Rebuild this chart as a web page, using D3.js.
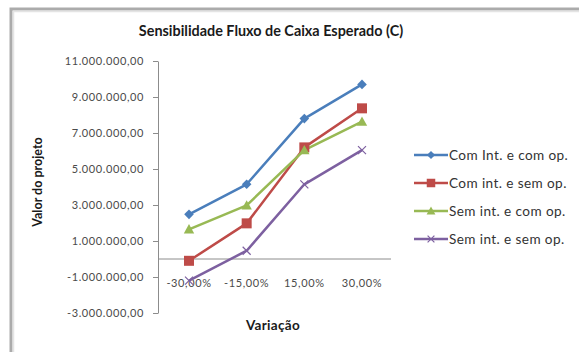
<!DOCTYPE html>
<html>
<head>
<meta charset="utf-8">
<script src="https://cdn.jsdelivr.net/npm/d3@7"></script>
<style>
  html, body { margin: 0; padding: 0; background: #fff; }
  svg { display: block; font-family: Lato, "Open Sans", sans-serif; }
</style>
</head>
<body>
<svg id="chart" width="579" height="352"></svg>
<script>
// Sensitivity of expected cash flow (project value) by variation scenario
const categories = ["-30,00%", "-15,00%", "15,00%", "30,00%"];
const seriesNames = [
  "Com Int. e com op.",
  "Com int. e sem op.",
  "Sem int. e com op.",
  "Sem int. e sem op."
];
const comIntComOp = [2480000, 4150000, 7800000, 9700000];
const comIntSemOp = [-100000, 1980000, 6200000, 8370000];
const semIntComOp = [1650000, 2980000, 6050000, 7630000];
const semIntSemOp = [-1200000, 460000, 4150000, 6050000];
const yTicks = [-3000000, -1000000, 1000000, 3000000, 5000000, 7000000, 9000000, 11000000];

const colors = ["#4a7ebb", "#be4b48", "#98b954", "#7d60a0"];
const markers = ["diamond", "square", "triangle", "cross"];
const series = [comIntComOp, comIntSemOp, semIntComOp, semIntSemOp].map((values, i) => ({
  name: seriesNames[i], values, color: colors[i], marker: markers[i]
}));

const svg = d3.select("#chart");

// outer chart frame
svg.append("rect")
  .attr("x", 11).attr("y", 9).attr("width", 700).attr("height", 500)
  .attr("fill", "#fff").attr("stroke", "#ababab").attr("stroke-width", 3);
svg.append("rect")
  .attr("x", 13.5).attr("y", 11.5).attr("width", 700).attr("height", 500)
  .attr("fill", "none").attr("stroke", "#e4e4e4").attr("stroke-width", 1.5);

const x = d3.scalePoint().domain(categories).range([189, 362]);
const y = d3.scaleLinear().domain([-3000000, 11000000]).range([313, 61]);
const axisX = 158;
const plotRight = 391;

const fmt = v => {
  const s = d3.format(",.2f")(v);
  return s.replace(/,/g, "#").replace(".", ",").replace(/#/g, ".").replace("−", "-");
};

// value axis
const yAxis = d3.axisLeft(y).tickValues(yTicks).tickSize(5).tickSizeOuter(0).tickPadding(9).tickFormat(fmt);
const gy = svg.append("g").attr("transform", `translate(${axisX},0)`).call(yAxis);
gy.select(".domain").attr("stroke", "#8c8c8c");
gy.selectAll(".tick line").attr("stroke", "#8c8c8c");
gy.selectAll(".tick text").attr("fill", "#4a4a4a").style("font-size", "11px")
  .style("letter-spacing", "0.6px").style("font-family", "Lato, sans-serif");

// zero baseline (category axis)
svg.append("line")
  .attr("x1", axisX).attr("x2", plotRight)
  .attr("y1", y(0)).attr("y2", y(0))
  .attr("stroke", "#8c8c8c").attr("stroke-width", 1);

// category labels
svg.append("g").selectAll("text").data(categories).join("text")
  .attr("x", d => x(d)).attr("y", 287)
  .attr("text-anchor", "middle")
  .attr("fill", "#4a4a4a").style("font-size", "11px").style("letter-spacing", "0.6px")
  .text(d => d);

// series lines
const line = d3.line().x((d, i) => x(categories[i])).y(d => y(d));
const gS = svg.append("g");
series.forEach(s => {
  gS.append("path").attr("d", line(s.values))
    .attr("fill", "none").attr("stroke", s.color).attr("stroke-width", 2.5)
    .attr("stroke-linejoin", "round");
});

function drawMarker(g, type, cx, cy, color, scale) {
  const k = scale || 1;
  if (type === "diamond") {
    const r = 4.8 * k;
    g.append("path").attr("d", `M${cx},${cy - r}L${cx + r},${cy}L${cx},${cy + r}L${cx - r},${cy}Z`).attr("fill", color);
  } else if (type === "square") {
    const r = 5 * k;
    g.append("rect").attr("x", cx - r).attr("y", cy - r).attr("width", 2 * r).attr("height", 2 * r).attr("fill", color);
  } else if (type === "triangle") {
    const r = 5.2 * k;
    g.append("path").attr("d", `M${cx},${cy - r}L${cx + r},${cy + r * 0.8}L${cx - r},${cy + r * 0.8}Z`).attr("fill", color);
  } else {
    const r = 4 * k;
    g.append("path").attr("d", `M${cx - r},${cy - r}L${cx + r},${cy + r}M${cx - r},${cy + r}L${cx + r},${cy - r}`)
      .attr("stroke", color).attr("stroke-width", 1.2).attr("fill", "none");
  }
}

series.forEach(s => {
  s.values.forEach((v, i) => drawMarker(gS, s.marker, x(categories[i]), y(v), s.color));
});

// legend
const legend = svg.append("g");
series.forEach((s, i) => {
  const ly = 155 + i * 28;
  legend.append("line").attr("x1", 414).attr("x2", 448).attr("y1", ly).attr("y2", ly)
    .attr("stroke", s.color).attr("stroke-width", 2.5);
  drawMarker(legend, s.marker, 431, ly, s.color, 0.85);
  legend.append("text").attr("x", 449).attr("y", ly + 5)
    .attr("fill", "#333").style("font-size", "13.6px").style("letter-spacing", "0.4px")
    .text(s.name);
});

// titles
svg.append("text").attr("x", 271).attr("y", 36).attr("text-anchor", "middle")
  .attr("fill", "#1a1a1a").style("font-size", "14.4px").style("font-weight", "bold")
  .text("Sensibilidade Fluxo de Caixa Esperado (C)");
svg.append("text").attr("x", 273).attr("y", 330).attr("text-anchor", "middle")
  .attr("fill", "#1a1a1a").style("font-size", "13.5px").style("font-weight", "bold")
  .style("letter-spacing", "0.3px")
  .text("Variação");
svg.append("text").attr("transform", "translate(42,182) rotate(-90)").attr("text-anchor", "middle")
  .attr("fill", "#1a1a1a").style("font-size", "12.5px").style("font-weight", "bold")
  .text("Valor do projeto");
</script>
</body>
</html>
